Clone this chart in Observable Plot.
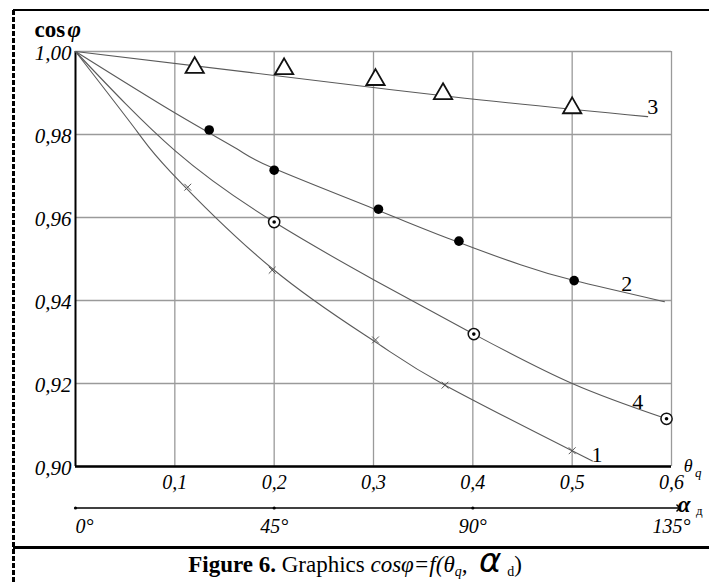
<!DOCTYPE html>
<html>
<head>
<meta charset="utf-8">
<script src="https://cdn.jsdelivr.net/npm/d3@7"></script>
<script src="https://cdn.jsdelivr.net/npm/@observablehq/plot@0.6"></script>
<style>
  body { margin: 0; background: #fff; }
  #wrap { position: relative; width: 709px; height: 583px; overflow: hidden; background: #fff;
          font-family: "Liberation Serif", "Times New Roman", serif; }
  #chart { position: absolute; left: 0; top: 0; }
  #chart svg text { font-family: "Liberation Serif", "Times New Roman", serif !important; }
  .frameL { position: absolute; left: 12px; top: 10px; width: 2.5px; height: 573px;
            background: repeating-linear-gradient(to bottom, #000 0 5px, transparent 5px 7px); }
  .frameT { position: absolute; left: 13px; top: 9px; width: 696px; height: 2px; background: #000; }
  .sep { position: absolute; left: 13px; top: 546px; width: 696px; height: 3px; background: #000; }
  #caption { position: absolute; left: 13px; top: 551px; width: 684px; height: 32px; text-align: center;
             font-size: 23px; line-height: 28px; color: #000; white-space: nowrap; }
  #caption sub { font-size: 14px; line-height: 0; vertical-align: -4px; }
  #caption .al { font-family: "DejaVu Sans", sans-serif; font-style: italic; font-size: 34px; line-height: 0; }
</style>
</head>
<body>
<div id="wrap">
  <div id="chart"></div>
  <div class="frameL"></div>
  <div class="frameT"></div>
  <div class="sep"></div>
  <div id="caption"><b>Figure 6.</b> Graphics <i>cosφ=f(θ<sub>q</sub>,</i>&nbsp; <span class="al">α</span> <sub>d</sub>)</div>
</div>
<script>
// ---- ticks ----
const xTicks = [0.1, 0.2, 0.3, 0.4, 0.5, 0.6];
const yTicks = [0.90, 0.92, 0.94, 0.96, 0.98, 1.00];
const alphaTicks = [0, 45, 90, 135];          // degrees; 135° ↔ θq = 0.6
const alphaPerTheta = 135 / 0.6;

// ---- curve 1 (× markers) : fitted line and measured points ----
const line1Theta = [0, 0.0621, 0.0957, 0.198, 0.302, 0.372, 0.500, 0.514];
const line1Cos   = [1.000, 0.9807, 0.9710, 0.9477, 0.9300, 0.9196, 0.9038, 0.9021];
const mark1Theta = [0.113, 0.198, 0.302, 0.372, 0.500];
const mark1Cos   = [0.9673, 0.9473, 0.9305, 0.9196, 0.9038];

// ---- curve 2 (filled dots) ----
const line2Theta = [0, 0.1007, 0.1628, 0.200, 0.3036, 0.3776, 0.448, 0.502, 0.593];
const line2Cos   = [1.000, 0.9851, 0.9765, 0.9718, 0.9618, 0.95475, 0.9486, 0.9448, 0.9397];
const mark2Theta = [0.1346, 0.200, 0.305, 0.386, 0.502];
const mark2Cos   = [0.9811, 0.9714, 0.9620, 0.9543, 0.9448];

// ---- curve 3 (triangles) ----
const line3Theta = [0, 0.177, 0.379, 0.576];
const line3Cos   = [1.000, 0.9949, 0.9891, 0.9843];
const mark3Theta = [0.120, 0.210, 0.302, 0.370, 0.500];
const mark3Cos   = [0.9961, 0.9958, 0.9932, 0.9898, 0.9864];

// ---- curve 4 (circled dots) ----
const line4Theta = [0, 0.1007, 0.200, 0.301, 0.401, 0.500, 0.595];
const line4Cos   = [1.000, 0.9760, 0.9589, 0.9449, 0.9319, 0.9200, 0.9115];
const mark4Theta = [0.200, 0.401, 0.595];
const mark4Cos   = [0.9589, 0.9319, 0.9115];

// ---- curve number labels ----
const curveLabels = ["1", "2", "3", "4"];
const curveLabelTheta = [0.525, 0.555, 0.581, 0.566];
const curveLabelCos   = [0.9028, 0.9440, 0.9866, 0.9155];

const pts = (xs, ys) => xs.map((x, i) => ({x, y: ys[i]}));
const serif = '"Liberation Serif", "Times New Roman", serif';
const lineColor = "#5a5a5a";
const alphaAxisCos = 0.89;   // level of the α axis, below the frame
const comma = (d, n) => d.toFixed(n).replace(".", ",");

const plot = Plot.plot({
  width: 709,
  height: 545,
  marginLeft: 75,
  marginRight: 38,
  marginTop: 51,
  marginBottom: 79,
  x: {domain: [0, 0.6]},
  y: {domain: [0.9, 1.0]},
  style: {fontFamily: serif, background: "transparent", color: "#000", overflow: "visible"},
  marks: [
    Plot.gridX(xTicks, {stroke: "#9a9a9a", strokeOpacity: 1, strokeWidth: 1.3}),
    Plot.gridY(yTicks, {stroke: "#9a9a9a", strokeOpacity: 1, strokeWidth: 1.3}),
    Plot.ruleX([0], {stroke: "#000", strokeWidth: 2}),
    Plot.ruleY([0.9], {stroke: "#000", strokeWidth: 2.5}),
    Plot.axisY(yTicks, {tickSize: 0, tickPadding: 4, dy: 2, tickFormat: d => comma(d, 2), label: null,
      fontSize: 21, fontStyle: "italic", fontFamily: serif}),
    Plot.axisX(xTicks, {tickSize: 0, tickPadding: 8, tickFormat: d => comma(d, 1), label: null,
      fontSize: 20, fontStyle: "italic", fontFamily: serif}),
    // curves
    Plot.line(pts(line1Theta, line1Cos), {x: "x", y: "y", curve: "natural", stroke: lineColor, strokeWidth: 1.1}),
    Plot.line(pts(line2Theta, line2Cos), {x: "x", y: "y", curve: "natural", stroke: lineColor, strokeWidth: 1.1}),
    Plot.line(pts(line3Theta, line3Cos), {x: "x", y: "y", curve: "natural", stroke: lineColor, strokeWidth: 1.1}),
    Plot.line(pts(line4Theta, line4Cos), {x: "x", y: "y", curve: "natural", stroke: lineColor, strokeWidth: 1.1}),
    // markers
    Plot.dot(pts(mark1Theta, mark1Cos), {x: "x", y: "y", symbol: "times", r: 3.2, stroke: "#555", strokeWidth: 1}),
    Plot.dot(pts(mark2Theta, mark2Cos), {x: "x", y: "y", r: 4.8, fill: "#000", stroke: "none"}),
    Plot.dot(pts(mark3Theta, mark3Cos), {x: "x", y: "y", symbol: "triangle", r: 6.8, fill: "#fff", stroke: "#111", strokeWidth: 1.8}),
    Plot.dot(pts(mark4Theta, mark4Cos), {x: "x", y: "y", r: 5.6, fill: "#fff", stroke: "#111", strokeWidth: 1.5}),
    Plot.dot(pts(mark4Theta, mark4Cos), {x: "x", y: "y", r: 1.8, fill: "#000", stroke: "none"}),
    // curve labels
    Plot.text(curveLabels, {x: (d, i) => curveLabelTheta[i], y: (d, i) => curveLabelCos[i], text: d => d,
      fontSize: 22, fontFamily: serif, lineAnchor: "middle"}),
    // y title: cos φ
    Plot.text(["cos"], {frameAnchor: "top-left", dx: -41, dy: -22, text: d => d, textAnchor: "start",
      lineAnchor: "middle", fontSize: 23, fontWeight: "bold", fontFamily: serif}),
    Plot.text(["φ"], {frameAnchor: "top-left", dx: -8, dy: -22, text: d => d, textAnchor: "start",
      lineAnchor: "middle", fontSize: 23, fontWeight: "bold", fontStyle: "italic", fontFamily: serif}),
    // θq label
    Plot.text(["θ"], {frameAnchor: "bottom-right", dx: 21, dy: 0, text: d => d,
      lineAnchor: "middle", fontSize: 18, fontStyle: "italic", fontFamily: serif}),
    Plot.text(["q"], {frameAnchor: "bottom-right", dx: 30, dy: 6, text: d => d,
      lineAnchor: "middle", fontSize: 13, fontStyle: "italic", fontFamily: serif}),
    // α axis
    Plot.link([0], {x1: 0, x2: 0.607, y1: alphaAxisCos, y2: alphaAxisCos, stroke: "#000", strokeWidth: 1.5, markerEnd: "arrow"}),
    Plot.dot(alphaTicks.slice(0, 3), {x: a => a / alphaPerTheta, y: alphaAxisCos, r: 1.6, fill: "#000", stroke: "none"}),
    Plot.text(alphaTicks.slice(0, 1), {x: a => a / alphaPerTheta, frameAnchor: "bottom", dy: 60, text: a => a + "°",
      textAnchor: "start", lineAnchor: "middle", fontSize: 20, fontStyle: "italic", fontFamily: serif}),
    Plot.text(alphaTicks.slice(1), {x: a => a / alphaPerTheta, frameAnchor: "bottom", dy: 60, text: a => a + "°",
      lineAnchor: "middle", fontSize: 20, fontStyle: "italic", fontFamily: serif}),
    Plot.text(["α"], {frameAnchor: "bottom-right", dx: 19, dy: 38, text: d => d,
      lineAnchor: "middle", fontSize: 23, fontWeight: "bold", fontStyle: "italic", fontFamily: serif}),
    Plot.text(["д"], {frameAnchor: "bottom-right", dx: 31, dy: 44, text: d => d,
      lineAnchor: "middle", fontSize: 13, fontFamily: serif})
  ]
});
document.getElementById("chart").appendChild(plot);
</script>
</body>
</html>
